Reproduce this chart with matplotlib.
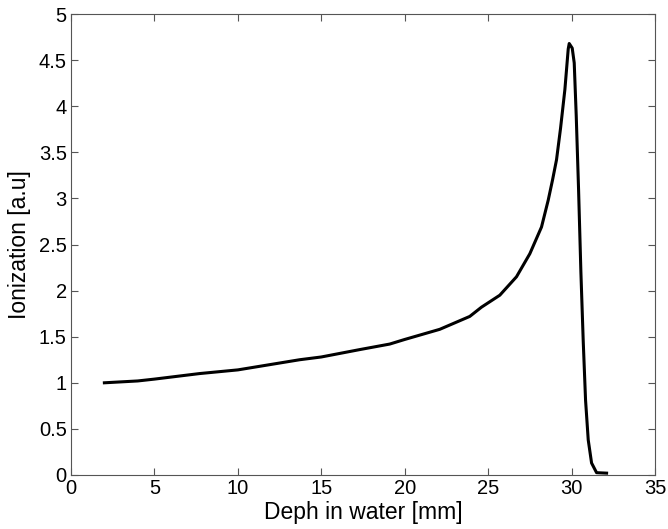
import matplotlib
matplotlib.use("Agg")
import matplotlib.pyplot as plt

# profundidade (mm) e ionizacao (u.a.)
depth = [2, 3, 4, 5, 7.7, 10, 13.7, 15, 17.3, 19.1, 20, 22.1, 23.9, 24.6,
         25.7, 26.7, 27.5, 28.2, 28.6, 28.86, 29.1, 29.34, 29.6, 29.8, 29.86,
         30.04, 30.16, 30.28, 30.42, 30.56, 30.7, 30.84, 31.0, 31.2,
         31.5, 32.1]
ionization = [1.0, 1.01, 1.02, 1.04, 1.10, 1.14, 1.25, 1.28, 1.36, 1.42, 1.47,
              1.58, 1.72, 1.82, 1.95, 2.15, 2.40, 2.69, 2.98, 3.20, 3.42, 3.76,
              4.18, 4.62, 4.68, 4.63, 4.47, 3.90, 3.10, 2.20, 1.45, 0.81,
              0.38, 0.13, 0.025, 0.02]

plt.rcParams['font.family'] = ['Liberation Sans', 'DejaVu Sans']

fig = plt.figure(figsize=(6.68, 5.29), dpi=100)
ax = fig.add_axes([0.1063, 0.1021, 0.8742, 0.8714])
ax.plot(depth, ionization, color='black', linewidth=2.2)

ax.set_xlim(0, 35)
ax.set_ylim(0, 5)
ax.set_xticks(range(0, 36, 5))
ax.set_yticks([i * 0.5 for i in range(11)])
ax.set_yticklabels(['0', '0.5', '1', '1.5', '2', '2.5', '3', '3.5', '4', '4.5', '5'])
ax.tick_params(direction='in', top=True, right=True, labelsize=14.5,
               color='#555555', length=5, width=0.8, pad=3)
for s in ax.spines.values():
    s.set_color('#555555')
    s.set_linewidth(0.8)

ax.set_xlabel('Deph in water [mm]', fontsize=16.5, labelpad=2)
ax.set_ylabel('Ionization [a.u]', fontsize=16.5, labelpad=6)

plt.savefig("out.png", format='png')
